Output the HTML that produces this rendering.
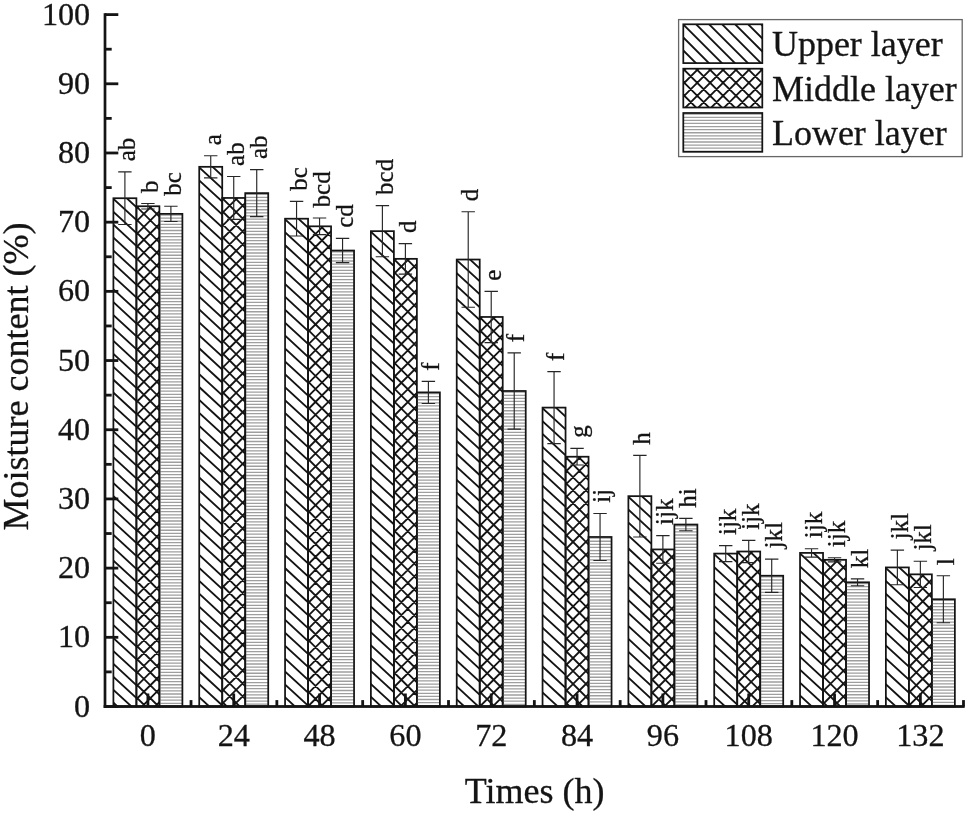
<!DOCTYPE html>
<html><head><meta charset="utf-8"><title>Moisture content chart</title>
<style>
html,body{margin:0;padding:0;background:#fff;}
body{width:967px;height:814px;overflow:hidden;font-family:"Liberation Serif",serif;}
body>svg{display:block;will-change:transform;}
text{font-family:"Liberation Serif",serif;fill:#141414;stroke:#141414;stroke-width:0.3px;}
</style></head><body>
<svg width="967" height="814" viewBox="0 0 967 814">
<defs><filter id="bl" x="-5%" y="-5%" width="110%" height="110%"><feGaussianBlur stdDeviation="0 0.5"/></filter></defs>
<rect width="967" height="814" fill="#fff"/>

<svg x="113.40" y="198.23" width="23.00" height="508.27" overflow="hidden">
<path d="M-2,-52.89L25.00,-28.05M-2,-39.97L25.00,-15.13M-2,-27.05L25.00,-2.21M-2,-14.13L25.00,10.71M-2,-1.21L25.00,23.63M-2,11.71L25.00,36.55M-2,24.63L25.00,49.47M-2,37.55L25.00,62.39M-2,50.47L25.00,75.31M-2,63.39L25.00,88.23M-2,76.31L25.00,101.15M-2,89.23L25.00,114.07M-2,102.15L25.00,126.99M-2,115.07L25.00,139.91M-2,127.99L25.00,152.83M-2,140.91L25.00,165.75M-2,153.83L25.00,178.67M-2,166.75L25.00,191.59M-2,179.67L25.00,204.51M-2,192.59L25.00,217.43M-2,205.51L25.00,230.35M-2,218.43L25.00,243.27M-2,231.35L25.00,256.19M-2,244.27L25.00,269.11M-2,257.19L25.00,282.03M-2,270.11L25.00,294.95M-2,283.03L25.00,307.87M-2,295.95L25.00,320.79M-2,308.87L25.00,333.71M-2,321.79L25.00,346.63M-2,334.71L25.00,359.55M-2,347.63L25.00,372.47M-2,360.55L25.00,385.39M-2,373.47L25.00,398.31M-2,386.39L25.00,411.23M-2,399.31L25.00,424.15M-2,412.23L25.00,437.07M-2,425.15L25.00,449.99M-2,438.07L25.00,462.91M-2,450.99L25.00,475.83M-2,463.91L25.00,488.75M-2,476.83L25.00,501.67M-2,489.75L25.00,514.59M-2,502.67L25.00,527.51M-2,515.59L25.00,540.43M-2,528.51L25.00,553.35" stroke="#141414" stroke-width="1.85" fill="none"/>
</svg>
<rect x="113.40" y="198.23" width="23.00" height="508.27" fill="none" stroke="#141414" stroke-width="1.75"/>
<svg x="136.40" y="206.26" width="23.00" height="500.24" overflow="hidden">
<path d="M-2,-53.46L25.00,-26.46M-2,-40.54L25.00,-13.54M-2,-27.63L25.00,-0.63M-2,-14.71L25.00,12.29M-2,-1.80L25.00,25.20M-2,11.11L25.00,38.11M-2,24.03L25.00,51.03M-2,36.95L25.00,63.95M-2,49.86L25.00,76.86M-2,62.77L25.00,89.77M-2,75.69L25.00,102.69M-2,88.61L25.00,115.61M-2,101.52L25.00,128.52M-2,114.43L25.00,141.44M-2,127.35L25.00,154.35M-2,140.26L25.00,167.26M-2,153.18L25.00,180.18M-2,166.09L25.00,193.09M-2,179.01L25.00,206.01M-2,191.92L25.00,218.92M-2,204.84L25.00,231.84M-2,217.75L25.00,244.75M-2,230.67L25.00,257.67M-2,243.58L25.00,270.58M-2,256.50L25.00,283.50M-2,269.41L25.00,296.41M-2,282.33L25.00,309.33M-2,295.24L25.00,322.24M-2,308.16L25.00,335.16M-2,321.07L25.00,348.07M-2,333.99L25.00,360.99M-2,346.90L25.00,373.90M-2,359.82L25.00,386.82M-2,372.73L25.00,399.73M-2,385.65L25.00,412.65M-2,398.56L25.00,425.56M-2,411.48L25.00,438.48M-2,424.39L25.00,451.39M-2,437.31L25.00,464.31M-2,450.22L25.00,477.22M-2,463.14L25.00,490.14M-2,476.05L25.00,503.05M-2,488.97L25.00,515.97M-2,501.88L25.00,528.88M-2,514.80L25.00,541.80M-2,527.72L25.00,554.72M-2,-8.71L25.00,-35.72M-2,4.20L25.00,-22.80M-2,17.11L25.00,-9.89M-2,30.03L25.00,3.03M-2,42.95L25.00,15.95M-2,55.86L25.00,28.86M-2,68.77L25.00,41.77M-2,81.69L25.00,54.69M-2,94.61L25.00,67.61M-2,107.52L25.00,80.52M-2,120.43L25.00,93.43M-2,133.35L25.00,106.35M-2,146.26L25.00,119.26M-2,159.18L25.00,132.18M-2,172.09L25.00,145.09M-2,185.01L25.00,158.01M-2,197.92L25.00,170.92M-2,210.84L25.00,183.84M-2,223.75L25.00,196.75M-2,236.67L25.00,209.67M-2,249.58L25.00,222.58M-2,262.50L25.00,235.50M-2,275.41L25.00,248.41M-2,288.33L25.00,261.33M-2,301.24L25.00,274.24M-2,314.16L25.00,287.16M-2,327.07L25.00,300.07M-2,339.99L25.00,312.99M-2,352.90L25.00,325.90M-2,365.82L25.00,338.82M-2,378.73L25.00,351.73M-2,391.65L25.00,364.65M-2,404.56L25.00,377.56M-2,417.48L25.00,390.48M-2,430.39L25.00,403.39M-2,443.31L25.00,416.31M-2,456.22L25.00,429.22M-2,469.14L25.00,442.14M-2,482.05L25.00,455.05M-2,494.97L25.00,467.97M-2,507.88L25.00,480.88M-2,520.80L25.00,493.80M-2,533.72L25.00,506.72M-2,546.63L25.00,519.63" stroke="#141414" stroke-width="1.85" fill="none"/>
</svg>
<rect x="136.40" y="206.26" width="23.00" height="500.24" fill="none" stroke="#141414" stroke-width="1.75"/>
<svg x="159.40" y="213.87" width="23.00" height="492.63" overflow="hidden">
<path d="M0,1.20H23.00M0,4.29H23.00M0,7.38H23.00M0,10.47H23.00M0,13.56H23.00M0,16.65H23.00M0,19.74H23.00M0,22.83H23.00M0,25.92H23.00M0,29.01H23.00M0,32.10H23.00M0,35.19H23.00M0,38.28H23.00M0,41.37H23.00M0,44.46H23.00M0,47.55H23.00M0,50.64H23.00M0,53.73H23.00M0,56.82H23.00M0,59.91H23.00M0,63.00H23.00M0,66.09H23.00M0,69.18H23.00M0,72.27H23.00M0,75.36H23.00M0,78.45H23.00M0,81.54H23.00M0,84.63H23.00M0,87.72H23.00M0,90.81H23.00M0,93.90H23.00M0,96.99H23.00M0,100.08H23.00M0,103.17H23.00M0,106.26H23.00M0,109.35H23.00M0,112.44H23.00M0,115.53H23.00M0,118.62H23.00M0,121.71H23.00M0,124.80H23.00M0,127.89H23.00M0,130.98H23.00M0,134.07H23.00M0,137.16H23.00M0,140.25H23.00M0,143.34H23.00M0,146.43H23.00M0,149.52H23.00M0,152.61H23.00M0,155.70H23.00M0,158.79H23.00M0,161.88H23.00M0,164.97H23.00M0,168.06H23.00M0,171.15H23.00M0,174.24H23.00M0,177.33H23.00M0,180.42H23.00M0,183.51H23.00M0,186.60H23.00M0,189.69H23.00M0,192.78H23.00M0,195.87H23.00M0,198.96H23.00M0,202.05H23.00M0,205.14H23.00M0,208.23H23.00M0,211.32H23.00M0,214.41H23.00M0,217.50H23.00M0,220.59H23.00M0,223.68H23.00M0,226.77H23.00M0,229.86H23.00M0,232.95H23.00M0,236.04H23.00M0,239.13H23.00M0,242.22H23.00M0,245.31H23.00M0,248.40H23.00M0,251.49H23.00M0,254.58H23.00M0,257.67H23.00M0,260.76H23.00M0,263.85H23.00M0,266.94H23.00M0,270.03H23.00M0,273.12H23.00M0,276.21H23.00M0,279.30H23.00M0,282.39H23.00M0,285.48H23.00M0,288.57H23.00M0,291.66H23.00M0,294.75H23.00M0,297.84H23.00M0,300.93H23.00M0,304.02H23.00M0,307.11H23.00M0,310.20H23.00M0,313.29H23.00M0,316.38H23.00M0,319.47H23.00M0,322.56H23.00M0,325.65H23.00M0,328.74H23.00M0,331.83H23.00M0,334.92H23.00M0,338.01H23.00M0,341.10H23.00M0,344.19H23.00M0,347.28H23.00M0,350.37H23.00M0,353.46H23.00M0,356.55H23.00M0,359.64H23.00M0,362.73H23.00M0,365.82H23.00M0,368.91H23.00M0,372.00H23.00M0,375.09H23.00M0,378.18H23.00M0,381.27H23.00M0,384.36H23.00M0,387.45H23.00M0,390.54H23.00M0,393.63H23.00M0,396.72H23.00M0,399.81H23.00M0,402.90H23.00M0,405.99H23.00M0,409.08H23.00M0,412.17H23.00M0,415.26H23.00M0,418.35H23.00M0,421.44H23.00M0,424.53H23.00M0,427.62H23.00M0,430.71H23.00M0,433.80H23.00M0,436.89H23.00M0,439.98H23.00M0,443.07H23.00M0,446.16H23.00M0,449.25H23.00M0,452.34H23.00M0,455.43H23.00M0,458.52H23.00M0,461.61H23.00M0,464.70H23.00M0,467.79H23.00M0,470.88H23.00M0,473.97H23.00M0,477.06H23.00M0,480.15H23.00M0,483.24H23.00M0,486.33H23.00M0,489.42H23.00M0,492.51H23.00" stroke="#9e9e9e" stroke-width="1.3" fill="none" filter="url(#bl)"/>
</svg>
<rect x="159.40" y="213.87" width="23.00" height="492.63" fill="none" stroke="#141414" stroke-width="1.75"/>
<svg x="199.23" y="166.82" width="23.00" height="539.68" overflow="hidden">
<path d="M-2,-52.89L25.00,-28.05M-2,-39.97L25.00,-15.13M-2,-27.05L25.00,-2.21M-2,-14.13L25.00,10.71M-2,-1.21L25.00,23.63M-2,11.71L25.00,36.55M-2,24.63L25.00,49.47M-2,37.55L25.00,62.39M-2,50.47L25.00,75.31M-2,63.39L25.00,88.23M-2,76.31L25.00,101.15M-2,89.23L25.00,114.07M-2,102.15L25.00,126.99M-2,115.07L25.00,139.91M-2,127.99L25.00,152.83M-2,140.91L25.00,165.75M-2,153.83L25.00,178.67M-2,166.75L25.00,191.59M-2,179.67L25.00,204.51M-2,192.59L25.00,217.43M-2,205.51L25.00,230.35M-2,218.43L25.00,243.27M-2,231.35L25.00,256.19M-2,244.27L25.00,269.11M-2,257.19L25.00,282.03M-2,270.11L25.00,294.95M-2,283.03L25.00,307.87M-2,295.95L25.00,320.79M-2,308.87L25.00,333.71M-2,321.79L25.00,346.63M-2,334.71L25.00,359.55M-2,347.63L25.00,372.47M-2,360.55L25.00,385.39M-2,373.47L25.00,398.31M-2,386.39L25.00,411.23M-2,399.31L25.00,424.15M-2,412.23L25.00,437.07M-2,425.15L25.00,449.99M-2,438.07L25.00,462.91M-2,450.99L25.00,475.83M-2,463.91L25.00,488.75M-2,476.83L25.00,501.67M-2,489.75L25.00,514.59M-2,502.67L25.00,527.51M-2,515.59L25.00,540.43M-2,528.51L25.00,553.35M-2,541.43L25.00,566.27M-2,554.35L25.00,579.19M-2,567.27L25.00,592.11" stroke="#141414" stroke-width="1.85" fill="none"/>
</svg>
<rect x="199.23" y="166.82" width="23.00" height="539.68" fill="none" stroke="#141414" stroke-width="1.75"/>
<svg x="222.23" y="197.95" width="23.00" height="508.55" overflow="hidden">
<path d="M-2,-53.46L25.00,-26.46M-2,-40.54L25.00,-13.54M-2,-27.63L25.00,-0.63M-2,-14.71L25.00,12.29M-2,-1.80L25.00,25.20M-2,11.11L25.00,38.11M-2,24.03L25.00,51.03M-2,36.95L25.00,63.95M-2,49.86L25.00,76.86M-2,62.77L25.00,89.77M-2,75.69L25.00,102.69M-2,88.61L25.00,115.61M-2,101.52L25.00,128.52M-2,114.43L25.00,141.44M-2,127.35L25.00,154.35M-2,140.26L25.00,167.26M-2,153.18L25.00,180.18M-2,166.09L25.00,193.09M-2,179.01L25.00,206.01M-2,191.92L25.00,218.92M-2,204.84L25.00,231.84M-2,217.75L25.00,244.75M-2,230.67L25.00,257.67M-2,243.58L25.00,270.58M-2,256.50L25.00,283.50M-2,269.41L25.00,296.41M-2,282.33L25.00,309.33M-2,295.24L25.00,322.24M-2,308.16L25.00,335.16M-2,321.07L25.00,348.07M-2,333.99L25.00,360.99M-2,346.90L25.00,373.90M-2,359.82L25.00,386.82M-2,372.73L25.00,399.73M-2,385.65L25.00,412.65M-2,398.56L25.00,425.56M-2,411.48L25.00,438.48M-2,424.39L25.00,451.39M-2,437.31L25.00,464.31M-2,450.22L25.00,477.22M-2,463.14L25.00,490.14M-2,476.05L25.00,503.05M-2,488.97L25.00,515.97M-2,501.88L25.00,528.88M-2,514.80L25.00,541.80M-2,527.72L25.00,554.72M-2,-8.71L25.00,-35.72M-2,4.20L25.00,-22.80M-2,17.11L25.00,-9.89M-2,30.03L25.00,3.03M-2,42.95L25.00,15.95M-2,55.86L25.00,28.86M-2,68.77L25.00,41.77M-2,81.69L25.00,54.69M-2,94.61L25.00,67.61M-2,107.52L25.00,80.52M-2,120.43L25.00,93.43M-2,133.35L25.00,106.35M-2,146.26L25.00,119.26M-2,159.18L25.00,132.18M-2,172.09L25.00,145.09M-2,185.01L25.00,158.01M-2,197.92L25.00,170.92M-2,210.84L25.00,183.84M-2,223.75L25.00,196.75M-2,236.67L25.00,209.67M-2,249.58L25.00,222.58M-2,262.50L25.00,235.50M-2,275.41L25.00,248.41M-2,288.33L25.00,261.33M-2,301.24L25.00,274.24M-2,314.16L25.00,287.16M-2,327.07L25.00,300.07M-2,339.99L25.00,312.99M-2,352.90L25.00,325.90M-2,365.82L25.00,338.82M-2,378.73L25.00,351.73M-2,391.65L25.00,364.65M-2,404.56L25.00,377.56M-2,417.48L25.00,390.48M-2,430.39L25.00,403.39M-2,443.31L25.00,416.31M-2,456.22L25.00,429.22M-2,469.14L25.00,442.14M-2,482.05L25.00,455.05M-2,494.97L25.00,467.97M-2,507.88L25.00,480.88M-2,520.80L25.00,493.80M-2,533.72L25.00,506.72M-2,546.63L25.00,519.63M-2,559.54L25.00,532.54" stroke="#141414" stroke-width="1.85" fill="none"/>
</svg>
<rect x="222.23" y="197.95" width="23.00" height="508.55" fill="none" stroke="#141414" stroke-width="1.75"/>
<svg x="245.23" y="193.11" width="23.00" height="513.39" overflow="hidden">
<path d="M0,1.20H23.00M0,4.29H23.00M0,7.38H23.00M0,10.47H23.00M0,13.56H23.00M0,16.65H23.00M0,19.74H23.00M0,22.83H23.00M0,25.92H23.00M0,29.01H23.00M0,32.10H23.00M0,35.19H23.00M0,38.28H23.00M0,41.37H23.00M0,44.46H23.00M0,47.55H23.00M0,50.64H23.00M0,53.73H23.00M0,56.82H23.00M0,59.91H23.00M0,63.00H23.00M0,66.09H23.00M0,69.18H23.00M0,72.27H23.00M0,75.36H23.00M0,78.45H23.00M0,81.54H23.00M0,84.63H23.00M0,87.72H23.00M0,90.81H23.00M0,93.90H23.00M0,96.99H23.00M0,100.08H23.00M0,103.17H23.00M0,106.26H23.00M0,109.35H23.00M0,112.44H23.00M0,115.53H23.00M0,118.62H23.00M0,121.71H23.00M0,124.80H23.00M0,127.89H23.00M0,130.98H23.00M0,134.07H23.00M0,137.16H23.00M0,140.25H23.00M0,143.34H23.00M0,146.43H23.00M0,149.52H23.00M0,152.61H23.00M0,155.70H23.00M0,158.79H23.00M0,161.88H23.00M0,164.97H23.00M0,168.06H23.00M0,171.15H23.00M0,174.24H23.00M0,177.33H23.00M0,180.42H23.00M0,183.51H23.00M0,186.60H23.00M0,189.69H23.00M0,192.78H23.00M0,195.87H23.00M0,198.96H23.00M0,202.05H23.00M0,205.14H23.00M0,208.23H23.00M0,211.32H23.00M0,214.41H23.00M0,217.50H23.00M0,220.59H23.00M0,223.68H23.00M0,226.77H23.00M0,229.86H23.00M0,232.95H23.00M0,236.04H23.00M0,239.13H23.00M0,242.22H23.00M0,245.31H23.00M0,248.40H23.00M0,251.49H23.00M0,254.58H23.00M0,257.67H23.00M0,260.76H23.00M0,263.85H23.00M0,266.94H23.00M0,270.03H23.00M0,273.12H23.00M0,276.21H23.00M0,279.30H23.00M0,282.39H23.00M0,285.48H23.00M0,288.57H23.00M0,291.66H23.00M0,294.75H23.00M0,297.84H23.00M0,300.93H23.00M0,304.02H23.00M0,307.11H23.00M0,310.20H23.00M0,313.29H23.00M0,316.38H23.00M0,319.47H23.00M0,322.56H23.00M0,325.65H23.00M0,328.74H23.00M0,331.83H23.00M0,334.92H23.00M0,338.01H23.00M0,341.10H23.00M0,344.19H23.00M0,347.28H23.00M0,350.37H23.00M0,353.46H23.00M0,356.55H23.00M0,359.64H23.00M0,362.73H23.00M0,365.82H23.00M0,368.91H23.00M0,372.00H23.00M0,375.09H23.00M0,378.18H23.00M0,381.27H23.00M0,384.36H23.00M0,387.45H23.00M0,390.54H23.00M0,393.63H23.00M0,396.72H23.00M0,399.81H23.00M0,402.90H23.00M0,405.99H23.00M0,409.08H23.00M0,412.17H23.00M0,415.26H23.00M0,418.35H23.00M0,421.44H23.00M0,424.53H23.00M0,427.62H23.00M0,430.71H23.00M0,433.80H23.00M0,436.89H23.00M0,439.98H23.00M0,443.07H23.00M0,446.16H23.00M0,449.25H23.00M0,452.34H23.00M0,455.43H23.00M0,458.52H23.00M0,461.61H23.00M0,464.70H23.00M0,467.79H23.00M0,470.88H23.00M0,473.97H23.00M0,477.06H23.00M0,480.15H23.00M0,483.24H23.00M0,486.33H23.00M0,489.42H23.00M0,492.51H23.00M0,495.60H23.00M0,498.69H23.00M0,501.78H23.00M0,504.87H23.00M0,507.96H23.00M0,511.05H23.00M0,514.14H23.00" stroke="#9e9e9e" stroke-width="1.3" fill="none" filter="url(#bl)"/>
</svg>
<rect x="245.23" y="193.11" width="23.00" height="513.39" fill="none" stroke="#141414" stroke-width="1.75"/>
<svg x="285.06" y="218.71" width="23.00" height="487.79" overflow="hidden">
<path d="M-2,-52.89L25.00,-28.05M-2,-39.97L25.00,-15.13M-2,-27.05L25.00,-2.21M-2,-14.13L25.00,10.71M-2,-1.21L25.00,23.63M-2,11.71L25.00,36.55M-2,24.63L25.00,49.47M-2,37.55L25.00,62.39M-2,50.47L25.00,75.31M-2,63.39L25.00,88.23M-2,76.31L25.00,101.15M-2,89.23L25.00,114.07M-2,102.15L25.00,126.99M-2,115.07L25.00,139.91M-2,127.99L25.00,152.83M-2,140.91L25.00,165.75M-2,153.83L25.00,178.67M-2,166.75L25.00,191.59M-2,179.67L25.00,204.51M-2,192.59L25.00,217.43M-2,205.51L25.00,230.35M-2,218.43L25.00,243.27M-2,231.35L25.00,256.19M-2,244.27L25.00,269.11M-2,257.19L25.00,282.03M-2,270.11L25.00,294.95M-2,283.03L25.00,307.87M-2,295.95L25.00,320.79M-2,308.87L25.00,333.71M-2,321.79L25.00,346.63M-2,334.71L25.00,359.55M-2,347.63L25.00,372.47M-2,360.55L25.00,385.39M-2,373.47L25.00,398.31M-2,386.39L25.00,411.23M-2,399.31L25.00,424.15M-2,412.23L25.00,437.07M-2,425.15L25.00,449.99M-2,438.07L25.00,462.91M-2,450.99L25.00,475.83M-2,463.91L25.00,488.75M-2,476.83L25.00,501.67M-2,489.75L25.00,514.59M-2,502.67L25.00,527.51M-2,515.59L25.00,540.43" stroke="#141414" stroke-width="1.85" fill="none"/>
</svg>
<rect x="285.06" y="218.71" width="23.00" height="487.79" fill="none" stroke="#141414" stroke-width="1.75"/>
<svg x="308.06" y="226.32" width="23.00" height="480.18" overflow="hidden">
<path d="M-2,-53.46L25.00,-26.46M-2,-40.54L25.00,-13.54M-2,-27.63L25.00,-0.63M-2,-14.71L25.00,12.29M-2,-1.80L25.00,25.20M-2,11.11L25.00,38.11M-2,24.03L25.00,51.03M-2,36.95L25.00,63.95M-2,49.86L25.00,76.86M-2,62.77L25.00,89.77M-2,75.69L25.00,102.69M-2,88.61L25.00,115.61M-2,101.52L25.00,128.52M-2,114.43L25.00,141.44M-2,127.35L25.00,154.35M-2,140.26L25.00,167.26M-2,153.18L25.00,180.18M-2,166.09L25.00,193.09M-2,179.01L25.00,206.01M-2,191.92L25.00,218.92M-2,204.84L25.00,231.84M-2,217.75L25.00,244.75M-2,230.67L25.00,257.67M-2,243.58L25.00,270.58M-2,256.50L25.00,283.50M-2,269.41L25.00,296.41M-2,282.33L25.00,309.33M-2,295.24L25.00,322.24M-2,308.16L25.00,335.16M-2,321.07L25.00,348.07M-2,333.99L25.00,360.99M-2,346.90L25.00,373.90M-2,359.82L25.00,386.82M-2,372.73L25.00,399.73M-2,385.65L25.00,412.65M-2,398.56L25.00,425.56M-2,411.48L25.00,438.48M-2,424.39L25.00,451.39M-2,437.31L25.00,464.31M-2,450.22L25.00,477.22M-2,463.14L25.00,490.14M-2,476.05L25.00,503.05M-2,488.97L25.00,515.97M-2,501.88L25.00,528.88M-2,-8.71L25.00,-35.72M-2,4.20L25.00,-22.80M-2,17.11L25.00,-9.89M-2,30.03L25.00,3.03M-2,42.95L25.00,15.95M-2,55.86L25.00,28.86M-2,68.77L25.00,41.77M-2,81.69L25.00,54.69M-2,94.61L25.00,67.61M-2,107.52L25.00,80.52M-2,120.43L25.00,93.43M-2,133.35L25.00,106.35M-2,146.26L25.00,119.26M-2,159.18L25.00,132.18M-2,172.09L25.00,145.09M-2,185.01L25.00,158.01M-2,197.92L25.00,170.92M-2,210.84L25.00,183.84M-2,223.75L25.00,196.75M-2,236.67L25.00,209.67M-2,249.58L25.00,222.58M-2,262.50L25.00,235.50M-2,275.41L25.00,248.41M-2,288.33L25.00,261.33M-2,301.24L25.00,274.24M-2,314.16L25.00,287.16M-2,327.07L25.00,300.07M-2,339.99L25.00,312.99M-2,352.90L25.00,325.90M-2,365.82L25.00,338.82M-2,378.73L25.00,351.73M-2,391.65L25.00,364.65M-2,404.56L25.00,377.56M-2,417.48L25.00,390.48M-2,430.39L25.00,403.39M-2,443.31L25.00,416.31M-2,456.22L25.00,429.22M-2,469.14L25.00,442.14M-2,482.05L25.00,455.05M-2,494.97L25.00,467.97M-2,507.88L25.00,480.88M-2,520.80L25.00,493.80M-2,533.72L25.00,506.72" stroke="#141414" stroke-width="1.85" fill="none"/>
</svg>
<rect x="308.06" y="226.32" width="23.00" height="480.18" fill="none" stroke="#141414" stroke-width="1.75"/>
<svg x="331.06" y="250.54" width="23.00" height="455.96" overflow="hidden">
<path d="M0,1.20H23.00M0,4.29H23.00M0,7.38H23.00M0,10.47H23.00M0,13.56H23.00M0,16.65H23.00M0,19.74H23.00M0,22.83H23.00M0,25.92H23.00M0,29.01H23.00M0,32.10H23.00M0,35.19H23.00M0,38.28H23.00M0,41.37H23.00M0,44.46H23.00M0,47.55H23.00M0,50.64H23.00M0,53.73H23.00M0,56.82H23.00M0,59.91H23.00M0,63.00H23.00M0,66.09H23.00M0,69.18H23.00M0,72.27H23.00M0,75.36H23.00M0,78.45H23.00M0,81.54H23.00M0,84.63H23.00M0,87.72H23.00M0,90.81H23.00M0,93.90H23.00M0,96.99H23.00M0,100.08H23.00M0,103.17H23.00M0,106.26H23.00M0,109.35H23.00M0,112.44H23.00M0,115.53H23.00M0,118.62H23.00M0,121.71H23.00M0,124.80H23.00M0,127.89H23.00M0,130.98H23.00M0,134.07H23.00M0,137.16H23.00M0,140.25H23.00M0,143.34H23.00M0,146.43H23.00M0,149.52H23.00M0,152.61H23.00M0,155.70H23.00M0,158.79H23.00M0,161.88H23.00M0,164.97H23.00M0,168.06H23.00M0,171.15H23.00M0,174.24H23.00M0,177.33H23.00M0,180.42H23.00M0,183.51H23.00M0,186.60H23.00M0,189.69H23.00M0,192.78H23.00M0,195.87H23.00M0,198.96H23.00M0,202.05H23.00M0,205.14H23.00M0,208.23H23.00M0,211.32H23.00M0,214.41H23.00M0,217.50H23.00M0,220.59H23.00M0,223.68H23.00M0,226.77H23.00M0,229.86H23.00M0,232.95H23.00M0,236.04H23.00M0,239.13H23.00M0,242.22H23.00M0,245.31H23.00M0,248.40H23.00M0,251.49H23.00M0,254.58H23.00M0,257.67H23.00M0,260.76H23.00M0,263.85H23.00M0,266.94H23.00M0,270.03H23.00M0,273.12H23.00M0,276.21H23.00M0,279.30H23.00M0,282.39H23.00M0,285.48H23.00M0,288.57H23.00M0,291.66H23.00M0,294.75H23.00M0,297.84H23.00M0,300.93H23.00M0,304.02H23.00M0,307.11H23.00M0,310.20H23.00M0,313.29H23.00M0,316.38H23.00M0,319.47H23.00M0,322.56H23.00M0,325.65H23.00M0,328.74H23.00M0,331.83H23.00M0,334.92H23.00M0,338.01H23.00M0,341.10H23.00M0,344.19H23.00M0,347.28H23.00M0,350.37H23.00M0,353.46H23.00M0,356.55H23.00M0,359.64H23.00M0,362.73H23.00M0,365.82H23.00M0,368.91H23.00M0,372.00H23.00M0,375.09H23.00M0,378.18H23.00M0,381.27H23.00M0,384.36H23.00M0,387.45H23.00M0,390.54H23.00M0,393.63H23.00M0,396.72H23.00M0,399.81H23.00M0,402.90H23.00M0,405.99H23.00M0,409.08H23.00M0,412.17H23.00M0,415.26H23.00M0,418.35H23.00M0,421.44H23.00M0,424.53H23.00M0,427.62H23.00M0,430.71H23.00M0,433.80H23.00M0,436.89H23.00M0,439.98H23.00M0,443.07H23.00M0,446.16H23.00M0,449.25H23.00M0,452.34H23.00M0,455.43H23.00" stroke="#9e9e9e" stroke-width="1.3" fill="none" filter="url(#bl)"/>
</svg>
<rect x="331.06" y="250.54" width="23.00" height="455.96" fill="none" stroke="#141414" stroke-width="1.75"/>
<svg x="370.89" y="231.16" width="23.00" height="475.34" overflow="hidden">
<path d="M-2,-52.89L25.00,-28.05M-2,-39.97L25.00,-15.13M-2,-27.05L25.00,-2.21M-2,-14.13L25.00,10.71M-2,-1.21L25.00,23.63M-2,11.71L25.00,36.55M-2,24.63L25.00,49.47M-2,37.55L25.00,62.39M-2,50.47L25.00,75.31M-2,63.39L25.00,88.23M-2,76.31L25.00,101.15M-2,89.23L25.00,114.07M-2,102.15L25.00,126.99M-2,115.07L25.00,139.91M-2,127.99L25.00,152.83M-2,140.91L25.00,165.75M-2,153.83L25.00,178.67M-2,166.75L25.00,191.59M-2,179.67L25.00,204.51M-2,192.59L25.00,217.43M-2,205.51L25.00,230.35M-2,218.43L25.00,243.27M-2,231.35L25.00,256.19M-2,244.27L25.00,269.11M-2,257.19L25.00,282.03M-2,270.11L25.00,294.95M-2,283.03L25.00,307.87M-2,295.95L25.00,320.79M-2,308.87L25.00,333.71M-2,321.79L25.00,346.63M-2,334.71L25.00,359.55M-2,347.63L25.00,372.47M-2,360.55L25.00,385.39M-2,373.47L25.00,398.31M-2,386.39L25.00,411.23M-2,399.31L25.00,424.15M-2,412.23L25.00,437.07M-2,425.15L25.00,449.99M-2,438.07L25.00,462.91M-2,450.99L25.00,475.83M-2,463.91L25.00,488.75M-2,476.83L25.00,501.67M-2,489.75L25.00,514.59M-2,502.67L25.00,527.51" stroke="#141414" stroke-width="1.85" fill="none"/>
</svg>
<rect x="370.89" y="231.16" width="23.00" height="475.34" fill="none" stroke="#141414" stroke-width="1.75"/>
<svg x="393.89" y="258.84" width="23.00" height="447.66" overflow="hidden">
<path d="M-2,-53.46L25.00,-26.46M-2,-40.54L25.00,-13.54M-2,-27.63L25.00,-0.63M-2,-14.71L25.00,12.29M-2,-1.80L25.00,25.20M-2,11.11L25.00,38.11M-2,24.03L25.00,51.03M-2,36.95L25.00,63.95M-2,49.86L25.00,76.86M-2,62.77L25.00,89.77M-2,75.69L25.00,102.69M-2,88.61L25.00,115.61M-2,101.52L25.00,128.52M-2,114.43L25.00,141.44M-2,127.35L25.00,154.35M-2,140.26L25.00,167.26M-2,153.18L25.00,180.18M-2,166.09L25.00,193.09M-2,179.01L25.00,206.01M-2,191.92L25.00,218.92M-2,204.84L25.00,231.84M-2,217.75L25.00,244.75M-2,230.67L25.00,257.67M-2,243.58L25.00,270.58M-2,256.50L25.00,283.50M-2,269.41L25.00,296.41M-2,282.33L25.00,309.33M-2,295.24L25.00,322.24M-2,308.16L25.00,335.16M-2,321.07L25.00,348.07M-2,333.99L25.00,360.99M-2,346.90L25.00,373.90M-2,359.82L25.00,386.82M-2,372.73L25.00,399.73M-2,385.65L25.00,412.65M-2,398.56L25.00,425.56M-2,411.48L25.00,438.48M-2,424.39L25.00,451.39M-2,437.31L25.00,464.31M-2,450.22L25.00,477.22M-2,463.14L25.00,490.14M-2,476.05L25.00,503.05M-2,-8.71L25.00,-35.72M-2,4.20L25.00,-22.80M-2,17.11L25.00,-9.89M-2,30.03L25.00,3.03M-2,42.95L25.00,15.95M-2,55.86L25.00,28.86M-2,68.77L25.00,41.77M-2,81.69L25.00,54.69M-2,94.61L25.00,67.61M-2,107.52L25.00,80.52M-2,120.43L25.00,93.43M-2,133.35L25.00,106.35M-2,146.26L25.00,119.26M-2,159.18L25.00,132.18M-2,172.09L25.00,145.09M-2,185.01L25.00,158.01M-2,197.92L25.00,170.92M-2,210.84L25.00,183.84M-2,223.75L25.00,196.75M-2,236.67L25.00,209.67M-2,249.58L25.00,222.58M-2,262.50L25.00,235.50M-2,275.41L25.00,248.41M-2,288.33L25.00,261.33M-2,301.24L25.00,274.24M-2,314.16L25.00,287.16M-2,327.07L25.00,300.07M-2,339.99L25.00,312.99M-2,352.90L25.00,325.90M-2,365.82L25.00,338.82M-2,378.73L25.00,351.73M-2,391.65L25.00,364.65M-2,404.56L25.00,377.56M-2,417.48L25.00,390.48M-2,430.39L25.00,403.39M-2,443.31L25.00,416.31M-2,456.22L25.00,429.22M-2,469.14L25.00,442.14M-2,482.05L25.00,455.05M-2,494.97L25.00,467.97" stroke="#141414" stroke-width="1.85" fill="none"/>
</svg>
<rect x="393.89" y="258.84" width="23.00" height="447.66" fill="none" stroke="#141414" stroke-width="1.75"/>
<svg x="416.89" y="392.38" width="23.00" height="314.12" overflow="hidden">
<path d="M0,1.20H23.00M0,4.29H23.00M0,7.38H23.00M0,10.47H23.00M0,13.56H23.00M0,16.65H23.00M0,19.74H23.00M0,22.83H23.00M0,25.92H23.00M0,29.01H23.00M0,32.10H23.00M0,35.19H23.00M0,38.28H23.00M0,41.37H23.00M0,44.46H23.00M0,47.55H23.00M0,50.64H23.00M0,53.73H23.00M0,56.82H23.00M0,59.91H23.00M0,63.00H23.00M0,66.09H23.00M0,69.18H23.00M0,72.27H23.00M0,75.36H23.00M0,78.45H23.00M0,81.54H23.00M0,84.63H23.00M0,87.72H23.00M0,90.81H23.00M0,93.90H23.00M0,96.99H23.00M0,100.08H23.00M0,103.17H23.00M0,106.26H23.00M0,109.35H23.00M0,112.44H23.00M0,115.53H23.00M0,118.62H23.00M0,121.71H23.00M0,124.80H23.00M0,127.89H23.00M0,130.98H23.00M0,134.07H23.00M0,137.16H23.00M0,140.25H23.00M0,143.34H23.00M0,146.43H23.00M0,149.52H23.00M0,152.61H23.00M0,155.70H23.00M0,158.79H23.00M0,161.88H23.00M0,164.97H23.00M0,168.06H23.00M0,171.15H23.00M0,174.24H23.00M0,177.33H23.00M0,180.42H23.00M0,183.51H23.00M0,186.60H23.00M0,189.69H23.00M0,192.78H23.00M0,195.87H23.00M0,198.96H23.00M0,202.05H23.00M0,205.14H23.00M0,208.23H23.00M0,211.32H23.00M0,214.41H23.00M0,217.50H23.00M0,220.59H23.00M0,223.68H23.00M0,226.77H23.00M0,229.86H23.00M0,232.95H23.00M0,236.04H23.00M0,239.13H23.00M0,242.22H23.00M0,245.31H23.00M0,248.40H23.00M0,251.49H23.00M0,254.58H23.00M0,257.67H23.00M0,260.76H23.00M0,263.85H23.00M0,266.94H23.00M0,270.03H23.00M0,273.12H23.00M0,276.21H23.00M0,279.30H23.00M0,282.39H23.00M0,285.48H23.00M0,288.57H23.00M0,291.66H23.00M0,294.75H23.00M0,297.84H23.00M0,300.93H23.00M0,304.02H23.00M0,307.11H23.00M0,310.20H23.00M0,313.29H23.00" stroke="#9e9e9e" stroke-width="1.3" fill="none" filter="url(#bl)"/>
</svg>
<rect x="416.89" y="392.38" width="23.00" height="314.12" fill="none" stroke="#141414" stroke-width="1.75"/>
<svg x="456.72" y="259.53" width="23.00" height="446.97" overflow="hidden">
<path d="M-2,-52.89L25.00,-28.05M-2,-39.97L25.00,-15.13M-2,-27.05L25.00,-2.21M-2,-14.13L25.00,10.71M-2,-1.21L25.00,23.63M-2,11.71L25.00,36.55M-2,24.63L25.00,49.47M-2,37.55L25.00,62.39M-2,50.47L25.00,75.31M-2,63.39L25.00,88.23M-2,76.31L25.00,101.15M-2,89.23L25.00,114.07M-2,102.15L25.00,126.99M-2,115.07L25.00,139.91M-2,127.99L25.00,152.83M-2,140.91L25.00,165.75M-2,153.83L25.00,178.67M-2,166.75L25.00,191.59M-2,179.67L25.00,204.51M-2,192.59L25.00,217.43M-2,205.51L25.00,230.35M-2,218.43L25.00,243.27M-2,231.35L25.00,256.19M-2,244.27L25.00,269.11M-2,257.19L25.00,282.03M-2,270.11L25.00,294.95M-2,283.03L25.00,307.87M-2,295.95L25.00,320.79M-2,308.87L25.00,333.71M-2,321.79L25.00,346.63M-2,334.71L25.00,359.55M-2,347.63L25.00,372.47M-2,360.55L25.00,385.39M-2,373.47L25.00,398.31M-2,386.39L25.00,411.23M-2,399.31L25.00,424.15M-2,412.23L25.00,437.07M-2,425.15L25.00,449.99M-2,438.07L25.00,462.91M-2,450.99L25.00,475.83M-2,463.91L25.00,488.75" stroke="#141414" stroke-width="1.85" fill="none"/>
</svg>
<rect x="456.72" y="259.53" width="23.00" height="446.97" fill="none" stroke="#141414" stroke-width="1.75"/>
<svg x="479.72" y="316.96" width="23.00" height="389.54" overflow="hidden">
<path d="M-2,-53.46L25.00,-26.46M-2,-40.54L25.00,-13.54M-2,-27.63L25.00,-0.63M-2,-14.71L25.00,12.29M-2,-1.80L25.00,25.20M-2,11.11L25.00,38.11M-2,24.03L25.00,51.03M-2,36.95L25.00,63.95M-2,49.86L25.00,76.86M-2,62.77L25.00,89.77M-2,75.69L25.00,102.69M-2,88.61L25.00,115.61M-2,101.52L25.00,128.52M-2,114.43L25.00,141.44M-2,127.35L25.00,154.35M-2,140.26L25.00,167.26M-2,153.18L25.00,180.18M-2,166.09L25.00,193.09M-2,179.01L25.00,206.01M-2,191.92L25.00,218.92M-2,204.84L25.00,231.84M-2,217.75L25.00,244.75M-2,230.67L25.00,257.67M-2,243.58L25.00,270.58M-2,256.50L25.00,283.50M-2,269.41L25.00,296.41M-2,282.33L25.00,309.33M-2,295.24L25.00,322.24M-2,308.16L25.00,335.16M-2,321.07L25.00,348.07M-2,333.99L25.00,360.99M-2,346.90L25.00,373.90M-2,359.82L25.00,386.82M-2,372.73L25.00,399.73M-2,385.65L25.00,412.65M-2,398.56L25.00,425.56M-2,411.48L25.00,438.48M-2,-8.71L25.00,-35.72M-2,4.20L25.00,-22.80M-2,17.11L25.00,-9.89M-2,30.03L25.00,3.03M-2,42.95L25.00,15.95M-2,55.86L25.00,28.86M-2,68.77L25.00,41.77M-2,81.69L25.00,54.69M-2,94.61L25.00,67.61M-2,107.52L25.00,80.52M-2,120.43L25.00,93.43M-2,133.35L25.00,106.35M-2,146.26L25.00,119.26M-2,159.18L25.00,132.18M-2,172.09L25.00,145.09M-2,185.01L25.00,158.01M-2,197.92L25.00,170.92M-2,210.84L25.00,183.84M-2,223.75L25.00,196.75M-2,236.67L25.00,209.67M-2,249.58L25.00,222.58M-2,262.50L25.00,235.50M-2,275.41L25.00,248.41M-2,288.33L25.00,261.33M-2,301.24L25.00,274.24M-2,314.16L25.00,287.16M-2,327.07L25.00,300.07M-2,339.99L25.00,312.99M-2,352.90L25.00,325.90M-2,365.82L25.00,338.82M-2,378.73L25.00,351.73M-2,391.65L25.00,364.65M-2,404.56L25.00,377.56M-2,417.48L25.00,390.48M-2,430.39L25.00,403.39M-2,443.31L25.00,416.31" stroke="#141414" stroke-width="1.85" fill="none"/>
</svg>
<rect x="479.72" y="316.96" width="23.00" height="389.54" fill="none" stroke="#141414" stroke-width="1.75"/>
<svg x="502.72" y="390.99" width="23.00" height="315.51" overflow="hidden">
<path d="M0,1.20H23.00M0,4.29H23.00M0,7.38H23.00M0,10.47H23.00M0,13.56H23.00M0,16.65H23.00M0,19.74H23.00M0,22.83H23.00M0,25.92H23.00M0,29.01H23.00M0,32.10H23.00M0,35.19H23.00M0,38.28H23.00M0,41.37H23.00M0,44.46H23.00M0,47.55H23.00M0,50.64H23.00M0,53.73H23.00M0,56.82H23.00M0,59.91H23.00M0,63.00H23.00M0,66.09H23.00M0,69.18H23.00M0,72.27H23.00M0,75.36H23.00M0,78.45H23.00M0,81.54H23.00M0,84.63H23.00M0,87.72H23.00M0,90.81H23.00M0,93.90H23.00M0,96.99H23.00M0,100.08H23.00M0,103.17H23.00M0,106.26H23.00M0,109.35H23.00M0,112.44H23.00M0,115.53H23.00M0,118.62H23.00M0,121.71H23.00M0,124.80H23.00M0,127.89H23.00M0,130.98H23.00M0,134.07H23.00M0,137.16H23.00M0,140.25H23.00M0,143.34H23.00M0,146.43H23.00M0,149.52H23.00M0,152.61H23.00M0,155.70H23.00M0,158.79H23.00M0,161.88H23.00M0,164.97H23.00M0,168.06H23.00M0,171.15H23.00M0,174.24H23.00M0,177.33H23.00M0,180.42H23.00M0,183.51H23.00M0,186.60H23.00M0,189.69H23.00M0,192.78H23.00M0,195.87H23.00M0,198.96H23.00M0,202.05H23.00M0,205.14H23.00M0,208.23H23.00M0,211.32H23.00M0,214.41H23.00M0,217.50H23.00M0,220.59H23.00M0,223.68H23.00M0,226.77H23.00M0,229.86H23.00M0,232.95H23.00M0,236.04H23.00M0,239.13H23.00M0,242.22H23.00M0,245.31H23.00M0,248.40H23.00M0,251.49H23.00M0,254.58H23.00M0,257.67H23.00M0,260.76H23.00M0,263.85H23.00M0,266.94H23.00M0,270.03H23.00M0,273.12H23.00M0,276.21H23.00M0,279.30H23.00M0,282.39H23.00M0,285.48H23.00M0,288.57H23.00M0,291.66H23.00M0,294.75H23.00M0,297.84H23.00M0,300.93H23.00M0,304.02H23.00M0,307.11H23.00M0,310.20H23.00M0,313.29H23.00M0,316.38H23.00" stroke="#9e9e9e" stroke-width="1.3" fill="none" filter="url(#bl)"/>
</svg>
<rect x="502.72" y="390.99" width="23.00" height="315.51" fill="none" stroke="#141414" stroke-width="1.75"/>
<svg x="542.55" y="407.60" width="23.00" height="298.90" overflow="hidden">
<path d="M-2,-52.89L25.00,-28.05M-2,-39.97L25.00,-15.13M-2,-27.05L25.00,-2.21M-2,-14.13L25.00,10.71M-2,-1.21L25.00,23.63M-2,11.71L25.00,36.55M-2,24.63L25.00,49.47M-2,37.55L25.00,62.39M-2,50.47L25.00,75.31M-2,63.39L25.00,88.23M-2,76.31L25.00,101.15M-2,89.23L25.00,114.07M-2,102.15L25.00,126.99M-2,115.07L25.00,139.91M-2,127.99L25.00,152.83M-2,140.91L25.00,165.75M-2,153.83L25.00,178.67M-2,166.75L25.00,191.59M-2,179.67L25.00,204.51M-2,192.59L25.00,217.43M-2,205.51L25.00,230.35M-2,218.43L25.00,243.27M-2,231.35L25.00,256.19M-2,244.27L25.00,269.11M-2,257.19L25.00,282.03M-2,270.11L25.00,294.95M-2,283.03L25.00,307.87M-2,295.95L25.00,320.79M-2,308.87L25.00,333.71M-2,321.79L25.00,346.63" stroke="#141414" stroke-width="1.85" fill="none"/>
</svg>
<rect x="542.55" y="407.60" width="23.00" height="298.90" fill="none" stroke="#141414" stroke-width="1.75"/>
<svg x="565.55" y="456.72" width="23.00" height="249.78" overflow="hidden">
<path d="M-2,-53.46L25.00,-26.46M-2,-40.54L25.00,-13.54M-2,-27.63L25.00,-0.63M-2,-14.71L25.00,12.29M-2,-1.80L25.00,25.20M-2,11.11L25.00,38.11M-2,24.03L25.00,51.03M-2,36.95L25.00,63.95M-2,49.86L25.00,76.86M-2,62.77L25.00,89.77M-2,75.69L25.00,102.69M-2,88.61L25.00,115.61M-2,101.52L25.00,128.52M-2,114.43L25.00,141.44M-2,127.35L25.00,154.35M-2,140.26L25.00,167.26M-2,153.18L25.00,180.18M-2,166.09L25.00,193.09M-2,179.01L25.00,206.01M-2,191.92L25.00,218.92M-2,204.84L25.00,231.84M-2,217.75L25.00,244.75M-2,230.67L25.00,257.67M-2,243.58L25.00,270.58M-2,256.50L25.00,283.50M-2,269.41L25.00,296.41M-2,-8.71L25.00,-35.72M-2,4.20L25.00,-22.80M-2,17.11L25.00,-9.89M-2,30.03L25.00,3.03M-2,42.95L25.00,15.95M-2,55.86L25.00,28.86M-2,68.77L25.00,41.77M-2,81.69L25.00,54.69M-2,94.61L25.00,67.61M-2,107.52L25.00,80.52M-2,120.43L25.00,93.43M-2,133.35L25.00,106.35M-2,146.26L25.00,119.26M-2,159.18L25.00,132.18M-2,172.09L25.00,145.09M-2,185.01L25.00,158.01M-2,197.92L25.00,170.92M-2,210.84L25.00,183.84M-2,223.75L25.00,196.75M-2,236.67L25.00,209.67M-2,249.58L25.00,222.58M-2,262.50L25.00,235.50M-2,275.41L25.00,248.41M-2,288.33L25.00,261.33M-2,301.24L25.00,274.24" stroke="#141414" stroke-width="1.85" fill="none"/>
</svg>
<rect x="565.55" y="456.72" width="23.00" height="249.78" fill="none" stroke="#141414" stroke-width="1.75"/>
<svg x="588.55" y="536.98" width="23.00" height="169.52" overflow="hidden">
<path d="M0,1.20H23.00M0,4.29H23.00M0,7.38H23.00M0,10.47H23.00M0,13.56H23.00M0,16.65H23.00M0,19.74H23.00M0,22.83H23.00M0,25.92H23.00M0,29.01H23.00M0,32.10H23.00M0,35.19H23.00M0,38.28H23.00M0,41.37H23.00M0,44.46H23.00M0,47.55H23.00M0,50.64H23.00M0,53.73H23.00M0,56.82H23.00M0,59.91H23.00M0,63.00H23.00M0,66.09H23.00M0,69.18H23.00M0,72.27H23.00M0,75.36H23.00M0,78.45H23.00M0,81.54H23.00M0,84.63H23.00M0,87.72H23.00M0,90.81H23.00M0,93.90H23.00M0,96.99H23.00M0,100.08H23.00M0,103.17H23.00M0,106.26H23.00M0,109.35H23.00M0,112.44H23.00M0,115.53H23.00M0,118.62H23.00M0,121.71H23.00M0,124.80H23.00M0,127.89H23.00M0,130.98H23.00M0,134.07H23.00M0,137.16H23.00M0,140.25H23.00M0,143.34H23.00M0,146.43H23.00M0,149.52H23.00M0,152.61H23.00M0,155.70H23.00M0,158.79H23.00M0,161.88H23.00M0,164.97H23.00M0,168.06H23.00" stroke="#9e9e9e" stroke-width="1.3" fill="none" filter="url(#bl)"/>
</svg>
<rect x="588.55" y="536.98" width="23.00" height="169.52" fill="none" stroke="#141414" stroke-width="1.75"/>
<svg x="628.38" y="496.16" width="23.00" height="210.34" overflow="hidden">
<path d="M-2,-52.89L25.00,-28.05M-2,-39.97L25.00,-15.13M-2,-27.05L25.00,-2.21M-2,-14.13L25.00,10.71M-2,-1.21L25.00,23.63M-2,11.71L25.00,36.55M-2,24.63L25.00,49.47M-2,37.55L25.00,62.39M-2,50.47L25.00,75.31M-2,63.39L25.00,88.23M-2,76.31L25.00,101.15M-2,89.23L25.00,114.07M-2,102.15L25.00,126.99M-2,115.07L25.00,139.91M-2,127.99L25.00,152.83M-2,140.91L25.00,165.75M-2,153.83L25.00,178.67M-2,166.75L25.00,191.59M-2,179.67L25.00,204.51M-2,192.59L25.00,217.43M-2,205.51L25.00,230.35M-2,218.43L25.00,243.27M-2,231.35L25.00,256.19" stroke="#141414" stroke-width="1.85" fill="none"/>
</svg>
<rect x="628.38" y="496.16" width="23.00" height="210.34" fill="none" stroke="#141414" stroke-width="1.75"/>
<svg x="651.38" y="549.44" width="23.00" height="157.06" overflow="hidden">
<path d="M-2,-53.46L25.00,-26.46M-2,-40.54L25.00,-13.54M-2,-27.63L25.00,-0.63M-2,-14.71L25.00,12.29M-2,-1.80L25.00,25.20M-2,11.11L25.00,38.11M-2,24.03L25.00,51.03M-2,36.95L25.00,63.95M-2,49.86L25.00,76.86M-2,62.77L25.00,89.77M-2,75.69L25.00,102.69M-2,88.61L25.00,115.61M-2,101.52L25.00,128.52M-2,114.43L25.00,141.44M-2,127.35L25.00,154.35M-2,140.26L25.00,167.26M-2,153.18L25.00,180.18M-2,166.09L25.00,193.09M-2,179.01L25.00,206.01M-2,-8.71L25.00,-35.72M-2,4.20L25.00,-22.80M-2,17.11L25.00,-9.89M-2,30.03L25.00,3.03M-2,42.95L25.00,15.95M-2,55.86L25.00,28.86M-2,68.77L25.00,41.77M-2,81.69L25.00,54.69M-2,94.61L25.00,67.61M-2,107.52L25.00,80.52M-2,120.43L25.00,93.43M-2,133.35L25.00,106.35M-2,146.26L25.00,119.26M-2,159.18L25.00,132.18M-2,172.09L25.00,145.09M-2,185.01L25.00,158.01M-2,197.92L25.00,170.92M-2,210.84L25.00,183.84" stroke="#141414" stroke-width="1.85" fill="none"/>
</svg>
<rect x="651.38" y="549.44" width="23.00" height="157.06" fill="none" stroke="#141414" stroke-width="1.75"/>
<svg x="674.38" y="524.53" width="23.00" height="181.97" overflow="hidden">
<path d="M0,1.20H23.00M0,4.29H23.00M0,7.38H23.00M0,10.47H23.00M0,13.56H23.00M0,16.65H23.00M0,19.74H23.00M0,22.83H23.00M0,25.92H23.00M0,29.01H23.00M0,32.10H23.00M0,35.19H23.00M0,38.28H23.00M0,41.37H23.00M0,44.46H23.00M0,47.55H23.00M0,50.64H23.00M0,53.73H23.00M0,56.82H23.00M0,59.91H23.00M0,63.00H23.00M0,66.09H23.00M0,69.18H23.00M0,72.27H23.00M0,75.36H23.00M0,78.45H23.00M0,81.54H23.00M0,84.63H23.00M0,87.72H23.00M0,90.81H23.00M0,93.90H23.00M0,96.99H23.00M0,100.08H23.00M0,103.17H23.00M0,106.26H23.00M0,109.35H23.00M0,112.44H23.00M0,115.53H23.00M0,118.62H23.00M0,121.71H23.00M0,124.80H23.00M0,127.89H23.00M0,130.98H23.00M0,134.07H23.00M0,137.16H23.00M0,140.25H23.00M0,143.34H23.00M0,146.43H23.00M0,149.52H23.00M0,152.61H23.00M0,155.70H23.00M0,158.79H23.00M0,161.88H23.00M0,164.97H23.00M0,168.06H23.00M0,171.15H23.00M0,174.24H23.00M0,177.33H23.00M0,180.42H23.00" stroke="#9e9e9e" stroke-width="1.3" fill="none" filter="url(#bl)"/>
</svg>
<rect x="674.38" y="524.53" width="23.00" height="181.97" fill="none" stroke="#141414" stroke-width="1.75"/>
<svg x="714.21" y="553.59" width="23.00" height="152.91" overflow="hidden">
<path d="M-2,-52.89L25.00,-28.05M-2,-39.97L25.00,-15.13M-2,-27.05L25.00,-2.21M-2,-14.13L25.00,10.71M-2,-1.21L25.00,23.63M-2,11.71L25.00,36.55M-2,24.63L25.00,49.47M-2,37.55L25.00,62.39M-2,50.47L25.00,75.31M-2,63.39L25.00,88.23M-2,76.31L25.00,101.15M-2,89.23L25.00,114.07M-2,102.15L25.00,126.99M-2,115.07L25.00,139.91M-2,127.99L25.00,152.83M-2,140.91L25.00,165.75M-2,153.83L25.00,178.67M-2,166.75L25.00,191.59M-2,179.67L25.00,204.51" stroke="#141414" stroke-width="1.85" fill="none"/>
</svg>
<rect x="714.21" y="553.59" width="23.00" height="152.91" fill="none" stroke="#141414" stroke-width="1.75"/>
<svg x="737.21" y="551.51" width="23.00" height="154.99" overflow="hidden">
<path d="M-2,-53.46L25.00,-26.46M-2,-40.54L25.00,-13.54M-2,-27.63L25.00,-0.63M-2,-14.71L25.00,12.29M-2,-1.80L25.00,25.20M-2,11.11L25.00,38.11M-2,24.03L25.00,51.03M-2,36.95L25.00,63.95M-2,49.86L25.00,76.86M-2,62.77L25.00,89.77M-2,75.69L25.00,102.69M-2,88.61L25.00,115.61M-2,101.52L25.00,128.52M-2,114.43L25.00,141.44M-2,127.35L25.00,154.35M-2,140.26L25.00,167.26M-2,153.18L25.00,180.18M-2,166.09L25.00,193.09M-2,179.01L25.00,206.01M-2,-8.71L25.00,-35.72M-2,4.20L25.00,-22.80M-2,17.11L25.00,-9.89M-2,30.03L25.00,3.03M-2,42.95L25.00,15.95M-2,55.86L25.00,28.86M-2,68.77L25.00,41.77M-2,81.69L25.00,54.69M-2,94.61L25.00,67.61M-2,107.52L25.00,80.52M-2,120.43L25.00,93.43M-2,133.35L25.00,106.35M-2,146.26L25.00,119.26M-2,159.18L25.00,132.18M-2,172.09L25.00,145.09M-2,185.01L25.00,158.01M-2,197.92L25.00,170.92M-2,210.84L25.00,183.84" stroke="#141414" stroke-width="1.85" fill="none"/>
</svg>
<rect x="737.21" y="551.51" width="23.00" height="154.99" fill="none" stroke="#141414" stroke-width="1.75"/>
<svg x="760.21" y="575.73" width="23.00" height="130.77" overflow="hidden">
<path d="M0,1.20H23.00M0,4.29H23.00M0,7.38H23.00M0,10.47H23.00M0,13.56H23.00M0,16.65H23.00M0,19.74H23.00M0,22.83H23.00M0,25.92H23.00M0,29.01H23.00M0,32.10H23.00M0,35.19H23.00M0,38.28H23.00M0,41.37H23.00M0,44.46H23.00M0,47.55H23.00M0,50.64H23.00M0,53.73H23.00M0,56.82H23.00M0,59.91H23.00M0,63.00H23.00M0,66.09H23.00M0,69.18H23.00M0,72.27H23.00M0,75.36H23.00M0,78.45H23.00M0,81.54H23.00M0,84.63H23.00M0,87.72H23.00M0,90.81H23.00M0,93.90H23.00M0,96.99H23.00M0,100.08H23.00M0,103.17H23.00M0,106.26H23.00M0,109.35H23.00M0,112.44H23.00M0,115.53H23.00M0,118.62H23.00M0,121.71H23.00M0,124.80H23.00M0,127.89H23.00M0,130.98H23.00" stroke="#9e9e9e" stroke-width="1.3" fill="none" filter="url(#bl)"/>
</svg>
<rect x="760.21" y="575.73" width="23.00" height="130.77" fill="none" stroke="#141414" stroke-width="1.75"/>
<svg x="800.04" y="552.90" width="23.00" height="153.60" overflow="hidden">
<path d="M-2,-52.89L25.00,-28.05M-2,-39.97L25.00,-15.13M-2,-27.05L25.00,-2.21M-2,-14.13L25.00,10.71M-2,-1.21L25.00,23.63M-2,11.71L25.00,36.55M-2,24.63L25.00,49.47M-2,37.55L25.00,62.39M-2,50.47L25.00,75.31M-2,63.39L25.00,88.23M-2,76.31L25.00,101.15M-2,89.23L25.00,114.07M-2,102.15L25.00,126.99M-2,115.07L25.00,139.91M-2,127.99L25.00,152.83M-2,140.91L25.00,165.75M-2,153.83L25.00,178.67M-2,166.75L25.00,191.59M-2,179.67L25.00,204.51" stroke="#141414" stroke-width="1.85" fill="none"/>
</svg>
<rect x="800.04" y="552.90" width="23.00" height="153.60" fill="none" stroke="#141414" stroke-width="1.75"/>
<svg x="823.04" y="559.82" width="23.00" height="146.68" overflow="hidden">
<path d="M-2,-53.46L25.00,-26.46M-2,-40.54L25.00,-13.54M-2,-27.63L25.00,-0.63M-2,-14.71L25.00,12.29M-2,-1.80L25.00,25.20M-2,11.11L25.00,38.11M-2,24.03L25.00,51.03M-2,36.95L25.00,63.95M-2,49.86L25.00,76.86M-2,62.77L25.00,89.77M-2,75.69L25.00,102.69M-2,88.61L25.00,115.61M-2,101.52L25.00,128.52M-2,114.43L25.00,141.44M-2,127.35L25.00,154.35M-2,140.26L25.00,167.26M-2,153.18L25.00,180.18M-2,166.09L25.00,193.09M-2,-8.71L25.00,-35.72M-2,4.20L25.00,-22.80M-2,17.11L25.00,-9.89M-2,30.03L25.00,3.03M-2,42.95L25.00,15.95M-2,55.86L25.00,28.86M-2,68.77L25.00,41.77M-2,81.69L25.00,54.69M-2,94.61L25.00,67.61M-2,107.52L25.00,80.52M-2,120.43L25.00,93.43M-2,133.35L25.00,106.35M-2,146.26L25.00,119.26M-2,159.18L25.00,132.18M-2,172.09L25.00,145.09M-2,185.01L25.00,158.01M-2,197.92L25.00,170.92" stroke="#141414" stroke-width="1.85" fill="none"/>
</svg>
<rect x="823.04" y="559.82" width="23.00" height="146.68" fill="none" stroke="#141414" stroke-width="1.75"/>
<svg x="846.04" y="582.30" width="23.00" height="124.20" overflow="hidden">
<path d="M0,1.20H23.00M0,4.29H23.00M0,7.38H23.00M0,10.47H23.00M0,13.56H23.00M0,16.65H23.00M0,19.74H23.00M0,22.83H23.00M0,25.92H23.00M0,29.01H23.00M0,32.10H23.00M0,35.19H23.00M0,38.28H23.00M0,41.37H23.00M0,44.46H23.00M0,47.55H23.00M0,50.64H23.00M0,53.73H23.00M0,56.82H23.00M0,59.91H23.00M0,63.00H23.00M0,66.09H23.00M0,69.18H23.00M0,72.27H23.00M0,75.36H23.00M0,78.45H23.00M0,81.54H23.00M0,84.63H23.00M0,87.72H23.00M0,90.81H23.00M0,93.90H23.00M0,96.99H23.00M0,100.08H23.00M0,103.17H23.00M0,106.26H23.00M0,109.35H23.00M0,112.44H23.00M0,115.53H23.00M0,118.62H23.00M0,121.71H23.00M0,124.80H23.00" stroke="#9e9e9e" stroke-width="1.3" fill="none" filter="url(#bl)"/>
</svg>
<rect x="846.04" y="582.30" width="23.00" height="124.20" fill="none" stroke="#141414" stroke-width="1.75"/>
<svg x="885.87" y="567.43" width="23.00" height="139.07" overflow="hidden">
<path d="M-2,-52.89L25.00,-28.05M-2,-39.97L25.00,-15.13M-2,-27.05L25.00,-2.21M-2,-14.13L25.00,10.71M-2,-1.21L25.00,23.63M-2,11.71L25.00,36.55M-2,24.63L25.00,49.47M-2,37.55L25.00,62.39M-2,50.47L25.00,75.31M-2,63.39L25.00,88.23M-2,76.31L25.00,101.15M-2,89.23L25.00,114.07M-2,102.15L25.00,126.99M-2,115.07L25.00,139.91M-2,127.99L25.00,152.83M-2,140.91L25.00,165.75M-2,153.83L25.00,178.67M-2,166.75L25.00,191.59" stroke="#141414" stroke-width="1.85" fill="none"/>
</svg>
<rect x="885.87" y="567.43" width="23.00" height="139.07" fill="none" stroke="#141414" stroke-width="1.75"/>
<svg x="908.87" y="574.35" width="23.00" height="132.15" overflow="hidden">
<path d="M-2,-53.46L25.00,-26.46M-2,-40.54L25.00,-13.54M-2,-27.63L25.00,-0.63M-2,-14.71L25.00,12.29M-2,-1.80L25.00,25.20M-2,11.11L25.00,38.11M-2,24.03L25.00,51.03M-2,36.95L25.00,63.95M-2,49.86L25.00,76.86M-2,62.77L25.00,89.77M-2,75.69L25.00,102.69M-2,88.61L25.00,115.61M-2,101.52L25.00,128.52M-2,114.43L25.00,141.44M-2,127.35L25.00,154.35M-2,140.26L25.00,167.26M-2,153.18L25.00,180.18M-2,-8.71L25.00,-35.72M-2,4.20L25.00,-22.80M-2,17.11L25.00,-9.89M-2,30.03L25.00,3.03M-2,42.95L25.00,15.95M-2,55.86L25.00,28.86M-2,68.77L25.00,41.77M-2,81.69L25.00,54.69M-2,94.61L25.00,67.61M-2,107.52L25.00,80.52M-2,120.43L25.00,93.43M-2,133.35L25.00,106.35M-2,146.26L25.00,119.26M-2,159.18L25.00,132.18M-2,172.09L25.00,145.09M-2,185.01L25.00,158.01" stroke="#141414" stroke-width="1.85" fill="none"/>
</svg>
<rect x="908.87" y="574.35" width="23.00" height="132.15" fill="none" stroke="#141414" stroke-width="1.75"/>
<svg x="931.87" y="599.26" width="23.00" height="107.24" overflow="hidden">
<path d="M0,1.20H23.00M0,4.29H23.00M0,7.38H23.00M0,10.47H23.00M0,13.56H23.00M0,16.65H23.00M0,19.74H23.00M0,22.83H23.00M0,25.92H23.00M0,29.01H23.00M0,32.10H23.00M0,35.19H23.00M0,38.28H23.00M0,41.37H23.00M0,44.46H23.00M0,47.55H23.00M0,50.64H23.00M0,53.73H23.00M0,56.82H23.00M0,59.91H23.00M0,63.00H23.00M0,66.09H23.00M0,69.18H23.00M0,72.27H23.00M0,75.36H23.00M0,78.45H23.00M0,81.54H23.00M0,84.63H23.00M0,87.72H23.00M0,90.81H23.00M0,93.90H23.00M0,96.99H23.00M0,100.08H23.00M0,103.17H23.00M0,106.26H23.00" stroke="#9e9e9e" stroke-width="1.3" fill="none" filter="url(#bl)"/>
</svg>
<rect x="931.87" y="599.26" width="23.00" height="107.24" fill="none" stroke="#141414" stroke-width="1.75"/>
<path d="M124.90,171.94V224.52M118.20,171.94H131.60M118.20,224.52H131.60" stroke="#262626" stroke-width="1.15" fill="none"/>
<text transform="translate(135.10,161.34) rotate(-90)" font-size="25" stroke-width="0.15">ab</text>
<path d="M147.90,203.49V209.02M141.20,203.49H154.60M141.20,209.02H154.60" stroke="#262626" stroke-width="1.15" fill="none"/>
<text transform="translate(158.10,192.89) rotate(-90)" font-size="25" stroke-width="0.15">b</text>
<path d="M170.90,206.26V221.48M164.20,206.26H177.60M164.20,221.48H177.60" stroke="#262626" stroke-width="1.15" fill="none"/>
<text transform="translate(181.10,195.66) rotate(-90)" font-size="25" stroke-width="0.15">bc</text>
<path d="M210.73,155.75V177.89M204.03,155.75H217.43M204.03,177.89H217.43" stroke="#262626" stroke-width="1.15" fill="none"/>
<text transform="translate(220.93,145.15) rotate(-90)" font-size="25" stroke-width="0.15">a</text>
<path d="M233.73,176.50V219.40M227.03,176.50H240.43M227.03,219.40H240.43" stroke="#262626" stroke-width="1.15" fill="none"/>
<text transform="translate(243.93,165.90) rotate(-90)" font-size="25" stroke-width="0.15">ab</text>
<path d="M256.73,169.59V216.63M250.03,169.59H263.43M250.03,216.63H263.43" stroke="#262626" stroke-width="1.15" fill="none"/>
<text transform="translate(266.93,158.99) rotate(-90)" font-size="25" stroke-width="0.15">ab</text>
<path d="M296.56,201.41V236.01M289.86,201.41H303.26M289.86,236.01H303.26" stroke="#262626" stroke-width="1.15" fill="none"/>
<text transform="translate(306.76,190.81) rotate(-90)" font-size="25" stroke-width="0.15">bc</text>
<path d="M319.56,218.02V234.62M312.86,218.02H326.26M312.86,234.62H326.26" stroke="#262626" stroke-width="1.15" fill="none"/>
<text transform="translate(329.76,207.42) rotate(-90)" font-size="25" stroke-width="0.15">bcd</text>
<path d="M342.56,238.43V262.65M335.86,238.43H349.26M335.86,262.65H349.26" stroke="#262626" stroke-width="1.15" fill="none"/>
<text transform="translate(352.76,227.83) rotate(-90)" font-size="25" stroke-width="0.15">cd</text>
<path d="M382.39,205.56V256.77M375.69,205.56H389.09M375.69,256.77H389.09" stroke="#262626" stroke-width="1.15" fill="none"/>
<text transform="translate(392.59,194.96) rotate(-90)" font-size="25" stroke-width="0.15">bcd</text>
<path d="M405.39,243.62V274.06M398.69,243.62H412.09M398.69,274.06H412.09" stroke="#262626" stroke-width="1.15" fill="none"/>
<text transform="translate(415.59,233.02) rotate(-90)" font-size="25" stroke-width="0.15">d</text>
<path d="M428.39,381.31V403.45M421.69,381.31H435.09M421.69,403.45H435.09" stroke="#262626" stroke-width="1.15" fill="none"/>
<text transform="translate(438.59,370.71) rotate(-90)" font-size="25" stroke-width="0.15">f</text>
<path d="M468.22,211.79V307.27M461.52,211.79H474.92M461.52,307.27H474.92" stroke="#262626" stroke-width="1.15" fill="none"/>
<text transform="translate(478.42,201.19) rotate(-90)" font-size="25" stroke-width="0.15">d</text>
<path d="M491.22,291.36V342.56M484.52,291.36H497.92M484.52,342.56H497.92" stroke="#262626" stroke-width="1.15" fill="none"/>
<text transform="translate(501.42,280.76) rotate(-90)" font-size="25" stroke-width="0.15">e</text>
<path d="M514.22,352.94V429.05M507.52,352.94H520.92M507.52,429.05H520.92" stroke="#262626" stroke-width="1.15" fill="none"/>
<text transform="translate(524.42,342.34) rotate(-90)" font-size="25" stroke-width="0.15">f</text>
<path d="M554.05,371.62V443.58M547.35,371.62H560.75M547.35,443.58H560.75" stroke="#262626" stroke-width="1.15" fill="none"/>
<text transform="translate(564.25,361.02) rotate(-90)" font-size="25" stroke-width="0.15">f</text>
<path d="M577.05,448.42V465.03M570.35,448.42H583.75M570.35,465.03H583.75" stroke="#262626" stroke-width="1.15" fill="none"/>
<text transform="translate(587.25,437.82) rotate(-90)" font-size="25" stroke-width="0.15">g</text>
<path d="M600.05,513.46V560.51M593.35,513.46H606.75M593.35,560.51H606.75" stroke="#262626" stroke-width="1.15" fill="none"/>
<text transform="translate(610.25,502.86) rotate(-90)" font-size="25" stroke-width="0.15">ij</text>
<path d="M639.88,455.34V536.98M633.18,455.34H646.58M633.18,536.98H646.58" stroke="#262626" stroke-width="1.15" fill="none"/>
<text transform="translate(650.08,444.74) rotate(-90)" font-size="25" stroke-width="0.15">h</text>
<path d="M662.88,535.60V563.28M656.18,535.60H669.58M656.18,563.28H669.58" stroke="#262626" stroke-width="1.15" fill="none"/>
<text transform="translate(673.08,525.00) rotate(-90)" font-size="25" stroke-width="0.15">ijk</text>
<path d="M685.88,518.30V530.76M679.18,518.30H692.58M679.18,530.76H692.58" stroke="#262626" stroke-width="1.15" fill="none"/>
<text transform="translate(696.08,507.70) rotate(-90)" font-size="25" stroke-width="0.15">hi</text>
<path d="M725.71,545.63V561.55M719.01,545.63H732.41M719.01,561.55H732.41" stroke="#262626" stroke-width="1.15" fill="none"/>
<text transform="translate(735.91,535.03) rotate(-90)" font-size="25" stroke-width="0.15">ijk</text>
<path d="M748.71,540.44V562.58M742.01,540.44H755.41M742.01,562.58H755.41" stroke="#262626" stroke-width="1.15" fill="none"/>
<text transform="translate(758.91,529.84) rotate(-90)" font-size="25" stroke-width="0.15">ijk</text>
<path d="M771.71,559.13V592.34M765.01,559.13H778.41M765.01,592.34H778.41" stroke="#262626" stroke-width="1.15" fill="none"/>
<text transform="translate(781.91,548.53) rotate(-90)" font-size="25" stroke-width="0.15">jkl</text>
<path d="M811.54,548.75V557.05M804.84,548.75H818.24M804.84,557.05H818.24" stroke="#262626" stroke-width="1.15" fill="none"/>
<text transform="translate(821.74,538.15) rotate(-90)" font-size="25" stroke-width="0.15">ijk</text>
<path d="M834.54,557.74V561.89M827.84,557.74H841.24M827.84,561.89H841.24" stroke="#262626" stroke-width="1.15" fill="none"/>
<text transform="translate(844.74,547.14) rotate(-90)" font-size="25" stroke-width="0.15">ijk</text>
<path d="M857.54,578.84V585.76M850.84,578.84H864.24M850.84,585.76H864.24" stroke="#262626" stroke-width="1.15" fill="none"/>
<text transform="translate(867.74,568.24) rotate(-90)" font-size="25" stroke-width="0.15">kl</text>
<path d="M897.37,550.13V584.73M890.67,550.13H904.07M890.67,584.73H904.07" stroke="#262626" stroke-width="1.15" fill="none"/>
<text transform="translate(907.57,539.53) rotate(-90)" font-size="25" stroke-width="0.15">jkl</text>
<path d="M920.37,561.20V587.49M913.67,561.20H927.07M913.67,587.49H927.07" stroke="#262626" stroke-width="1.15" fill="none"/>
<text transform="translate(930.57,550.60) rotate(-90)" font-size="25" stroke-width="0.15">jkl</text>
<path d="M943.37,575.73V622.78M936.67,575.73H950.07M936.67,622.78H950.07" stroke="#262626" stroke-width="1.15" fill="none"/>
<text transform="translate(953.57,565.13) rotate(-90)" font-size="25" stroke-width="0.15">l</text>
<rect x="103.65" y="13.2" width="2.7" height="694.70" fill="#141414"/>
<rect x="103.65" y="705.10" width="861.05" height="2.8" fill="#141414"/>
<rect x="105.00" y="705.10" width="13.3" height="2.8" fill="#141414"/>
<text x="90.2" y="716.50" font-size="32.2" text-anchor="end">0</text>
<rect x="105.00" y="670.50" width="6.7" height="2.8" fill="#141414"/>
<rect x="105.00" y="635.91" width="13.3" height="2.8" fill="#141414"/>
<text x="90.2" y="647.31" font-size="32.2" text-anchor="end">10</text>
<rect x="105.00" y="601.32" width="6.7" height="2.8" fill="#141414"/>
<rect x="105.00" y="566.72" width="13.3" height="2.8" fill="#141414"/>
<text x="90.2" y="578.12" font-size="32.2" text-anchor="end">20</text>
<rect x="105.00" y="532.12" width="6.7" height="2.8" fill="#141414"/>
<rect x="105.00" y="497.53" width="13.3" height="2.8" fill="#141414"/>
<text x="90.2" y="508.93" font-size="32.2" text-anchor="end">30</text>
<rect x="105.00" y="462.94" width="6.7" height="2.8" fill="#141414"/>
<rect x="105.00" y="428.34" width="13.3" height="2.8" fill="#141414"/>
<text x="90.2" y="439.74" font-size="32.2" text-anchor="end">40</text>
<rect x="105.00" y="393.75" width="6.7" height="2.8" fill="#141414"/>
<rect x="105.00" y="359.15" width="13.3" height="2.8" fill="#141414"/>
<text x="90.2" y="370.55" font-size="32.2" text-anchor="end">50</text>
<rect x="105.00" y="324.56" width="6.7" height="2.8" fill="#141414"/>
<rect x="105.00" y="289.96" width="13.3" height="2.8" fill="#141414"/>
<text x="90.2" y="301.36" font-size="32.2" text-anchor="end">60</text>
<rect x="105.00" y="255.37" width="6.7" height="2.8" fill="#141414"/>
<rect x="105.00" y="220.77" width="13.3" height="2.8" fill="#141414"/>
<text x="90.2" y="232.17" font-size="32.2" text-anchor="end">70</text>
<rect x="105.00" y="186.18" width="6.7" height="2.8" fill="#141414"/>
<rect x="105.00" y="151.58" width="13.3" height="2.8" fill="#141414"/>
<text x="90.2" y="162.98" font-size="32.2" text-anchor="end">80</text>
<rect x="105.00" y="116.98" width="6.7" height="2.8" fill="#141414"/>
<rect x="105.00" y="82.39" width="13.3" height="2.8" fill="#141414"/>
<text x="90.2" y="93.79" font-size="32.2" text-anchor="end">90</text>
<rect x="105.00" y="47.80" width="6.7" height="2.8" fill="#141414"/>
<rect x="105.00" y="13.20" width="13.3" height="2.8" fill="#141414"/>
<text x="90.2" y="24.60" font-size="32.2" text-anchor="end">100</text>
<rect x="146.50" y="693.50" width="2.8" height="13" fill="#141414"/>
<rect x="189.61" y="700.10" width="2.8" height="6.4" fill="#141414"/>
<text x="147.90" y="746.4" font-size="32.2" text-anchor="middle">0</text>
<rect x="232.33" y="693.50" width="2.8" height="13" fill="#141414"/>
<rect x="275.45" y="700.10" width="2.8" height="6.4" fill="#141414"/>
<text x="233.73" y="746.4" font-size="32.2" text-anchor="middle">24</text>
<rect x="318.16" y="693.50" width="2.8" height="13" fill="#141414"/>
<rect x="361.28" y="700.10" width="2.8" height="6.4" fill="#141414"/>
<text x="319.56" y="746.4" font-size="32.2" text-anchor="middle">48</text>
<rect x="403.99" y="693.50" width="2.8" height="13" fill="#141414"/>
<rect x="447.11" y="700.10" width="2.8" height="6.4" fill="#141414"/>
<text x="405.39" y="746.4" font-size="32.2" text-anchor="middle">60</text>
<rect x="489.82" y="693.50" width="2.8" height="13" fill="#141414"/>
<rect x="532.94" y="700.10" width="2.8" height="6.4" fill="#141414"/>
<text x="491.22" y="746.4" font-size="32.2" text-anchor="middle">72</text>
<rect x="575.65" y="693.50" width="2.8" height="13" fill="#141414"/>
<rect x="618.76" y="700.10" width="2.8" height="6.4" fill="#141414"/>
<text x="577.05" y="746.4" font-size="32.2" text-anchor="middle">84</text>
<rect x="661.48" y="693.50" width="2.8" height="13" fill="#141414"/>
<rect x="704.60" y="700.10" width="2.8" height="6.4" fill="#141414"/>
<text x="662.88" y="746.4" font-size="32.2" text-anchor="middle">96</text>
<rect x="747.31" y="693.50" width="2.8" height="13" fill="#141414"/>
<rect x="790.42" y="700.10" width="2.8" height="6.4" fill="#141414"/>
<text x="748.71" y="746.4" font-size="32.2" text-anchor="middle">108</text>
<rect x="833.14" y="693.50" width="2.8" height="13" fill="#141414"/>
<rect x="876.25" y="700.10" width="2.8" height="6.4" fill="#141414"/>
<text x="834.54" y="746.4" font-size="32.2" text-anchor="middle">120</text>
<rect x="918.97" y="693.50" width="2.8" height="13" fill="#141414"/>
<rect x="962.09" y="700.10" width="2.8" height="6.4" fill="#141414"/>
<text x="920.37" y="746.4" font-size="32.2" text-anchor="middle">132</text>
<text x="534.7" y="803.3" font-size="36" text-anchor="middle">Times (h)</text>
<text transform="translate(28.3,376.5) rotate(-90)" font-size="36" text-anchor="middle">Moisture content (%)</text>
<rect x="678.6" y="19.6" width="283.6" height="137" fill="#fff" stroke="#666" stroke-width="1.3"/>
<svg x="683.30" y="24.30" width="79.00" height="38.80" overflow="hidden">
<path d="M-2,-105.82L81.00,-22.82M-2,-92.82L81.00,-9.82M-2,-79.82L81.00,3.18M-2,-66.82L81.00,16.18M-2,-53.82L81.00,29.18M-2,-40.82L81.00,42.18M-2,-27.82L81.00,55.18M-2,-14.82L81.00,68.18M-2,-1.82L81.00,81.18M-2,11.18L81.00,94.18M-2,24.18L81.00,107.18M-2,37.18L81.00,120.18M-2,50.18L81.00,133.18M-2,63.18L81.00,146.18" stroke="#141414" stroke-width="1.85" fill="none"/>
</svg>
<rect x="683.30" y="24.30" width="79.00" height="38.80" fill="none" stroke="#141414" stroke-width="1.75"/>
<text x="771.9" y="55.9" font-size="36">Upper layer</text>
<svg x="683.30" y="68.70" width="79.00" height="38.80" overflow="hidden">
<path d="M-2,-105.12L81.00,-22.12M-2,-92.20L81.00,-9.20M-2,-79.29L81.00,3.71M-2,-66.37L81.00,16.63M-2,-53.46L81.00,29.54M-2,-40.54L81.00,42.46M-2,-27.63L81.00,55.37M-2,-14.71L81.00,68.28M-2,-1.80L81.00,81.20M-2,11.11L81.00,94.11M-2,24.03L81.00,107.03M-2,36.95L81.00,119.94M-2,49.86L81.00,132.86M-2,62.77L81.00,145.77M-2,-8.71L81.00,-91.72M-2,4.20L81.00,-78.80M-2,17.11L81.00,-65.89M-2,30.03L81.00,-52.97M-2,42.95L81.00,-40.05M-2,55.86L81.00,-27.14M-2,68.77L81.00,-14.23M-2,81.69L81.00,-1.31M-2,94.61L81.00,11.61M-2,107.52L81.00,24.52M-2,120.43L81.00,37.43M-2,133.35L81.00,50.35M-2,146.26L81.00,63.26" stroke="#141414" stroke-width="1.85" fill="none"/>
</svg>
<rect x="683.30" y="68.70" width="79.00" height="38.80" fill="none" stroke="#141414" stroke-width="1.75"/>
<text x="771.9" y="100.7" font-size="36">Middle layer</text>
<svg x="683.30" y="113.00" width="79.00" height="38.80" overflow="hidden">
<path d="M0,1.20H79.00M0,4.29H79.00M0,7.38H79.00M0,10.47H79.00M0,13.56H79.00M0,16.65H79.00M0,19.74H79.00M0,22.83H79.00M0,25.92H79.00M0,29.01H79.00M0,32.10H79.00M0,35.19H79.00M0,38.28H79.00" stroke="#9e9e9e" stroke-width="1.3" fill="none" filter="url(#bl)"/>
</svg>
<rect x="683.30" y="113.00" width="79.00" height="38.80" fill="none" stroke="#141414" stroke-width="1.75"/>
<text x="771.9" y="145.4" font-size="36">Lower layer</text>
</svg></body></html>
